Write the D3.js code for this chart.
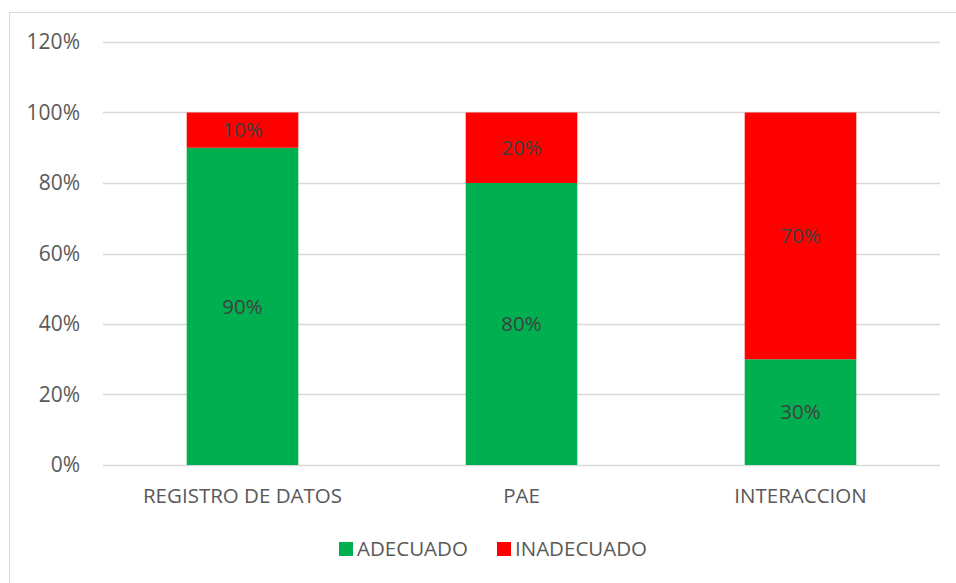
<!DOCTYPE html>
<html>
<head>
<meta charset="utf-8">
<script src="https://cdn.jsdelivr.net/npm/d3@7"></script>
<style>
  body { margin: 0; background: #fff; }
  text { font-family: "Open Sans", "Liberation Sans", sans-serif; fill: #595959; }
</style>
</head>
<body>
<svg width="956" height="583"></svg>
<script>
const categories = ["REGISTRO DE DATOS", "PAE", "INTERACCION"];
const adecuado = [0.9, 0.8, 0.3];
const inadecuado = [0.1, 0.2, 0.7];
const seriesNames = ["ADECUADO", "INADECUADO"];
const seriesColors = ["#00b050", "#ff0000"];
const yTicks = [0, 0.2, 0.4, 0.6, 0.8, 1.0, 1.2];

const svg = d3.select("svg");

// chart frame
svg.append("rect")
    .attr("x", 9.5).attr("y", 12.5)
    .attr("width", 960).attr("height", 600)
    .attr("fill", "none")
    .attr("stroke", "#d9d9d9");

const x = d3.scaleBand()
    .domain(categories)
    .range([103, 940])
    .paddingInner(0.6)
    .paddingOuter(0.3);

const y = d3.scaleLinear()
    .domain([0, 1.2])
    .range([465, 42]);

// gridlines
svg.append("g")
    .selectAll("line")
    .data(yTicks)
    .enter().append("line")
    .attr("x1", 103).attr("x2", 940)
    .attr("y1", d => Math.round(y(d)) + 0.5)
    .attr("y2", d => Math.round(y(d)) + 0.5)
    .attr("stroke", "#d9d9d9")
    .attr("stroke-width", 1.3);

// y tick labels
svg.append("g")
    .selectAll("text")
    .data(yTicks)
    .enter().append("text")
    .attr("x", 80)
    .attr("y", d => y(d))
    .attr("dy", "0.35em")
    .attr("text-anchor", "end")
    .attr("font-size", "21px")
    .text(d => d3.format(".0%")(d));

const stacked = d3.stack().keys([0, 1])(categories.map((c, i) => [adecuado[i], inadecuado[i]]));

const layers = svg.append("g")
    .selectAll("g")
    .data(stacked)
    .enter().append("g")
    .attr("fill", (d, i) => seriesColors[i]);

layers.selectAll("rect")
    .data(d => d.map((v, i) => ({ v: v, cat: categories[i] })))
    .enter().append("rect")
    .attr("x", d => x(d.cat))
    .attr("width", x.bandwidth())
    .attr("y", d => y(d.v[1]))
    .attr("height", d => y(d.v[0]) - y(d.v[1]));

// value labels
layers.selectAll("text")
    .data(d => d.map((v, i) => ({ v: v, cat: categories[i] })))
    .enter().append("text")
    .attr("x", d => x(d.cat) + x.bandwidth() / 2)
    .attr("y", d => y((d.v[0] + d.v[1]) / 2))
    .attr("dy", "0.35em")
    .attr("text-anchor", "middle")
    .attr("font-size", "20.5px")
    .style("fill", "#404040")
    .text(d => d3.format(".0%")(d.v[1] - d.v[0]));

// category labels
svg.append("g")
    .selectAll("text")
    .data(categories)
    .enter().append("text")
    .attr("x", d => x(d) + x.bandwidth() / 2)
    .attr("y", 496)
    .attr("dy", "0.35em")
    .attr("text-anchor", "middle")
    .attr("font-size", "20.5px")
    .text(d => d);

// legend
const legendX = [339, 497];
const legend = svg.append("g")
    .selectAll("g")
    .data(seriesNames)
    .enter().append("g")
    .attr("transform", (d, i) => "translate(" + legendX[i] + ",549)");

legend.append("rect")
    .attr("x", 0).attr("y", -7)
    .attr("width", 14).attr("height", 14)
    .attr("fill", (d, i) => seriesColors[i]);

legend.append("text")
    .attr("x", 18)
    .attr("y", 0)
    .attr("dy", "0.35em")
    .attr("font-size", "20.5px")
    .text(d => d);
</script>
</body>
</html>
